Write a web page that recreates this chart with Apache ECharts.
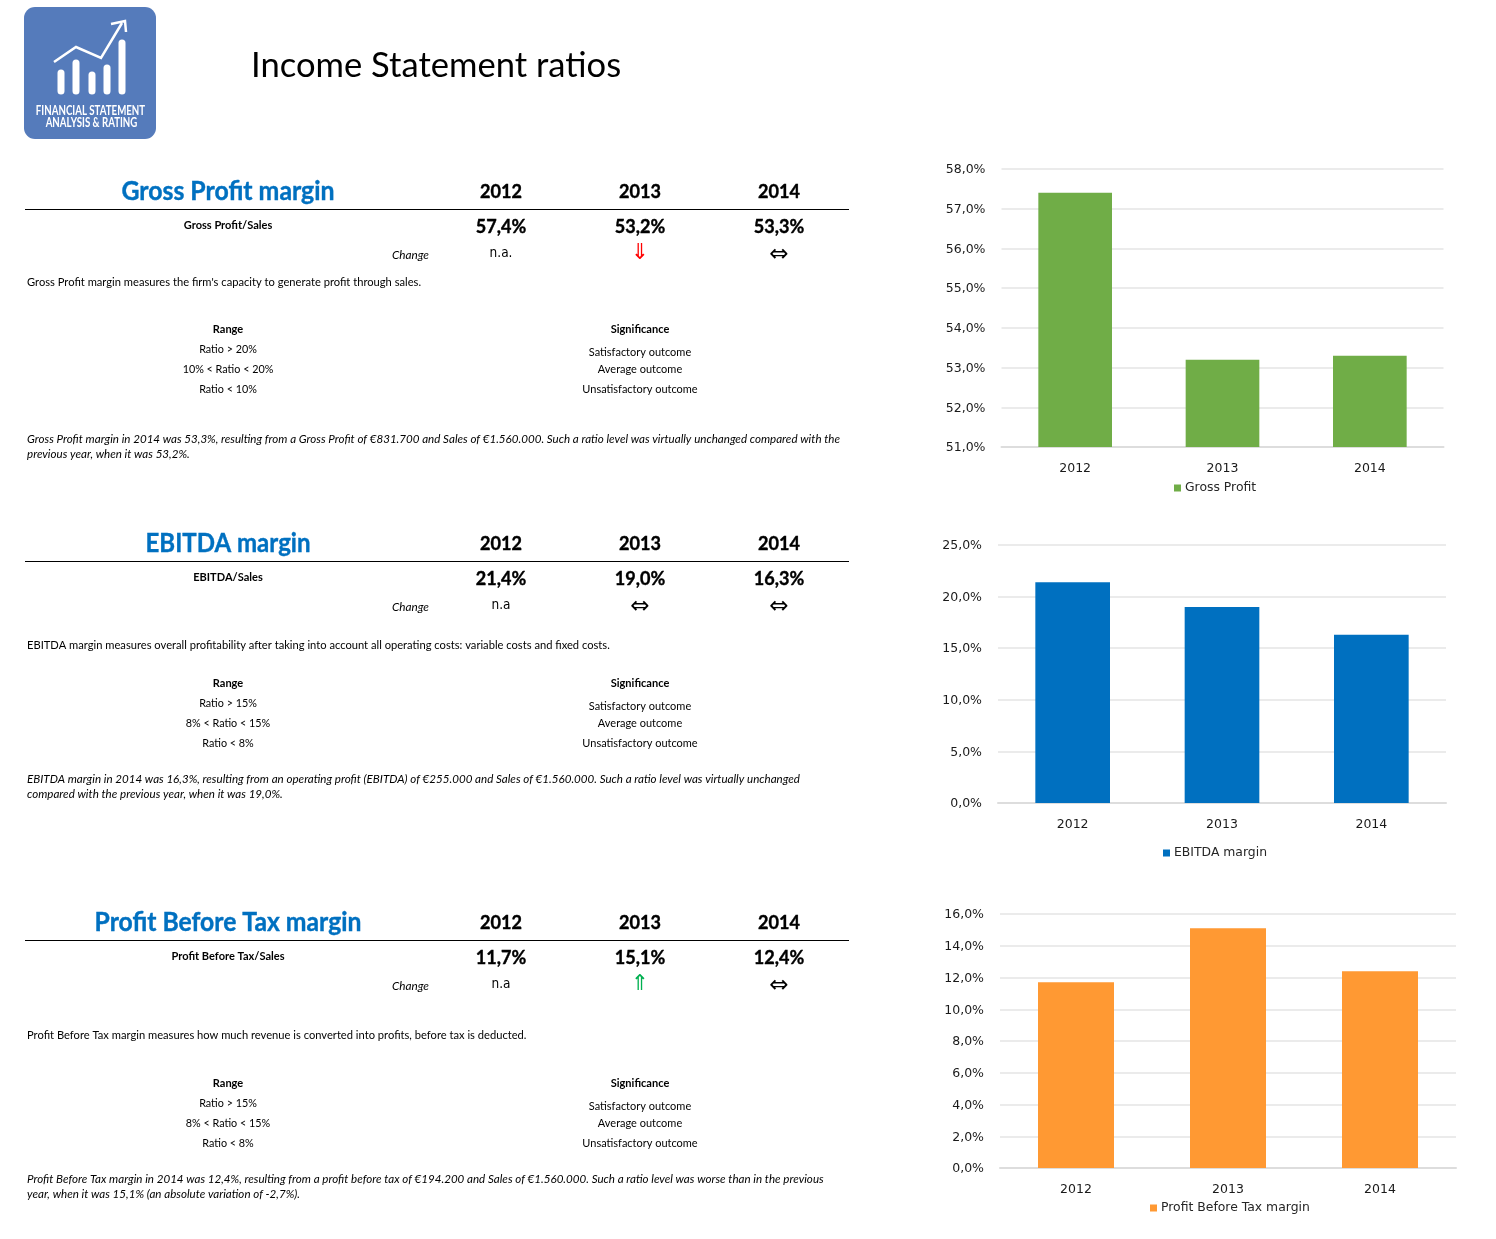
<!DOCTYPE html>
<html>
<head>
<meta charset="utf-8">
<title>Income Statement ratios</title>
<script src="https://cdn.jsdelivr.net/npm/echarts@6/dist/echarts.min.js"></script>
<style>
  html, body { margin: 0; padding: 0; background: #fff; }
  #main { width: 1496px; height: 1239px; }
</style>
</head>
<body>
<div id="main"></div>
<script>
// chart data
const years = ["2012", "2013", "2014"];
const grossProfit = [57.4, 53.2, 53.3];
const ebitdaMargin = [21.4, 19.0, 16.3];
const pbtMargin = [11.7, 15.1, 12.4];

// table texts
const grossValues = ["57,4%", "53,2%", "53,3%"];
const ebitdaValues = ["21,4%", "19,0%", "16,3%"];
const pbtValues = ["11,7%", "15,1%", "12,4%"];
const grossRanges = ["Ratio > 20%", "10% < Ratio < 20%", "Ratio < 10%"];
const ebitdaRanges = ["Ratio > 15%", "8% < Ratio < 15%", "Ratio < 8%"];
const pbtRanges = ["Ratio > 15%", "8% < Ratio < 15%", "Ratio < 8%"];
const outcomes = ["Satisfactory outcome", "Average outcome", "Unsatisfactory outcome"];
const grossNote = [
  "Gross Profit margin in 2014 was 53,3%, resulting from a Gross Profit of €831.700 and Sales of €1.560.000. Such a ratio level was virtually unchanged compared with the",
  "previous year, when it was 53,2%."
];
const ebitdaNote = [
  "EBITDA margin in 2014 was 16,3%, resulting from an operating profit (EBITDA) of €255.000 and Sales of €1.560.000. Such a ratio level was virtually unchanged",
  "compared with the previous year, when it was 19,0%."
];
const pbtNote = [
  "Profit Before Tax margin in 2014 was 12,4%, resulting from a profit before tax of €194.200 and Sales of €1.560.000. Such a ratio level was worse than in the previous",
  "year, when it was 15,1% (an absolute variation of -2,7%)."
];

const sheetFont = "Lato, 'Noto Sans', sans-serif";
const chartFont = "'DejaVu Sans', Verdana, sans-serif";
const yearX = [501, 640, 779];
const graphics = [];

function txt(x, y, text, size, opts) {
  opts = opts || {};
  const color = opts.color || "#000";
  graphics.push({
    type: "text",
    x: x,
    y: y,
    scaleX: opts.scaleX || 0.9,
    style: {
      text: text,
      fontFamily: opts.font || sheetFont,
      fontSize: size,
      fontWeight: opts.bold ? "bold" : "normal",
      fontStyle: opts.italic ? "italic" : "normal",
      fill: color,
      // Lato bold is lighter than the sheet's bold, thicken the big figures a bit
      stroke: opts.heavy ? color : null,
      lineWidth: opts.heavy ? 0.4 : 0,
      textAlign: opts.align || "center",
      textVerticalAlign: "middle"
    }
  });
}

// one block of the left hand table, y values are the rows of the sheet
function section(s) {
  txt(228, s.head + 0.5, s.title, 27, { bold: true, heavy: true, color: "#0070C0", scaleX: s.titleScale });
  years.forEach(function (year, i) {
    txt(yearX[i], s.head + 0.5, year, 19, { bold: true, heavy: true, scaleX: 0.95 });
    txt(yearX[i], s.head + 35.5, s.values[i], 19, { bold: true, heavy: true, scaleX: 0.95 });
  });
  graphics.push({
    type: "line",
    shape: { x1: 25, y1: s.head + 18.5, x2: 849, y2: s.head + 18.5 },
    style: { stroke: "#000", lineWidth: 1 }
  });
  txt(228, s.head + 34, s.formula, 12, { bold: true, scaleX: 0.92 });
  txt(429, s.head + 64, "Change", 12, { italic: true, align: "right", scaleX: 0.98 });
  txt(501, s.head + 62, s.na, 13.5, { font: chartFont });
  s.arrows.forEach(function (a, i) {
    txt(yearX[i + 1], s.head + 62 + (a[0] === "⇔" ? 2 : 0), a[0], a[0] === "⇔" ? 23 : 22, { font: chartFont, color: a[1], scaleX: 1 });
  });
  txt(27, s.desc, s.description, 12, { align: "left", scaleX: 0.93 });
  txt(228, s.range, "Range", 12, { bold: true, scaleX: 0.92 });
  txt(640, s.range, "Significance", 12, { bold: true, scaleX: 0.92 });
  s.ranges.forEach(function (r, i) {
    txt(228, s.range + 20 + i * 20, r, 12);
  });
  txt(640, s.range + 23, outcomes[0], 12, { scaleX: 0.915 });
  txt(640, s.range + 40, outcomes[1], 12, { scaleX: 0.915 });
  txt(640, s.range + 60, outcomes[2], 12, { scaleX: 0.915 });
  s.note.forEach(function (line, i) {
    txt(27, s.noteY + i * 14.8, line, 12, { italic: true, align: "left", scaleX: 0.966 });
  });
}

function drawLogo() {
  graphics.push({
    type: "rect",
    shape: { x: 24, y: 7, width: 132, height: 132, r: 11 },
    style: { fill: "#557BBB" }
  });
  [[61, 73], [76, 63], [92, 75], [107, 68], [122, 43]].forEach(function (b) {
    graphics.push({
      type: "line",
      shape: { x1: b[0], y1: b[1], x2: b[0], y2: 91 },
      style: { stroke: "#fff", lineWidth: 7, lineCap: "round" }
    });
  });
  graphics.push({
    type: "polyline",
    shape: { points: [[54, 62], [76, 47], [101, 58], [122, 23]] },
    style: { stroke: "#fff", lineWidth: 2.5, fill: null }
  });
  graphics.push({
    type: "polyline",
    shape: { points: [[111, 24], [125, 21], [126, 32]] },
    style: { stroke: "#fff", lineWidth: 2.5, fill: null }
  });
  txt(90.5, 111, "FINANCIAL STATEMENT", 13, { bold: true, color: "#fff", scaleX: 0.745 });
  txt(91.5, 123, "ANALYSIS & RATING", 13, { bold: true, color: "#fff", scaleX: 0.745 });
}

drawLogo();
txt(251, 66.5, "Income Statement ratios", 34, { align: "left", scaleX: 1.017 });

section({
  title: "Gross Profit margin", titleScale: 0.92, head: 191, values: grossValues, formula: "Gross Profit/Sales", na: "n.a.",
  arrows: [["⇓", "#FF0000"], ["⇔", "#000"]],
  desc: 282, description: "Gross Profit margin measures the firm's capacity to generate profit through sales.",
  range: 329, ranges: grossRanges, noteY: 439, note: grossNote
});
section({
  title: "EBITDA margin", titleScale: 0.89, head: 543, values: ebitdaValues, formula: "EBITDA/Sales", na: "n.a",
  arrows: [["⇔", "#000"], ["⇔", "#000"]],
  desc: 645, description: "EBITDA margin measures overall profitability after taking into account all operating costs: variable costs and fixed costs.",
  range: 683, ranges: ebitdaRanges, noteY: 779, note: ebitdaNote
});
section({
  title: "Profit Before Tax margin", titleScale: 0.915, head: 922, values: pbtValues, formula: "Profit Before Tax/Sales", na: "n.a",
  arrows: [["⇑", "#00B050"], ["⇔", "#000"]],
  desc: 1035, description: "Profit Before Tax margin measures how much revenue is converted into profits, before tax is deducted.",
  range: 1083, ranges: pbtRanges, noteY: 1179, note: pbtNote
});

// the three bar charts on the right
const panels = [
  { name: "Gross Profit", data: grossProfit, color: "#70AD47", min: 51, max: 58, interval: 1,
    left: 1001.5, top: 169, width: 442, height: 278, legendLeft: 1174, legendTop: 482 },
  { name: "EBITDA margin", data: ebitdaMargin, color: "#0070C0", min: 0, max: 25, interval: 5,
    left: 998, top: 545, width: 448, height: 258, legendLeft: 1163, legendTop: 847 },
  { name: "Profit Before Tax margin", data: pbtMargin, color: "#FF9933", min: 0, max: 16, interval: 2,
    left: 1000, top: 914, width: 456, height: 254, legendLeft: 1150, legendTop: 1202 }
];

const option = {
  animation: false,
  backgroundColor: "#fff",
  textStyle: { fontFamily: chartFont },
  graphic: { elements: graphics },
  legend: panels.map(function (p) {
    return {
      data: [p.name],
      left: p.legendLeft,
      top: p.legendTop,
      padding: 0,
      icon: "rect",
      itemWidth: 7,
      itemHeight: 7,
      itemGap: 0,
      textStyle: { fontFamily: chartFont, fontSize: 12.4, color: "#262626", padding: [0, 0, 0, -1] }
    };
  }),
  grid: panels.map(function (p) {
    return { left: p.left, top: p.top, width: p.width, height: p.height };
  }),
  xAxis: panels.map(function (p, i) {
    return {
      type: "category",
      gridIndex: i,
      data: years,
      axisTick: { show: false },
      axisLine: { lineStyle: { color: "#DDDDDD", width: 2 } },
      axisLabel: { margin: 15, fontFamily: chartFont, fontSize: 12.5, color: "#1a1a1a" }
    };
  }),
  yAxis: panels.map(function (p, i) {
    return {
      type: "value",
      gridIndex: i,
      min: p.min,
      max: p.max,
      interval: p.interval,
      axisLine: { show: false },
      axisTick: { show: false },
      splitLine: { lineStyle: { color: "#EBEBEB", width: 2 } },
      axisLabel: {
        margin: 16,
        fontFamily: chartFont,
        fontSize: 12.5,
        color: "#1a1a1a",
        formatter: function (v) {
          return "{t|" + v.toFixed(1).replace(".", ",") + "%}";
        },
        rich: {
          t: { fontFamily: chartFont, fontSize: 12.5, color: "#1a1a1a", padding: [2, 0, 0, 0] }
        }
      }
    };
  }),
  series: panels.map(function (p, i) {
    return {
      name: p.name,
      type: "bar",
      xAxisIndex: i,
      yAxisIndex: i,
      barWidth: "50%",
      itemStyle: { color: p.color },
      data: p.data
    };
  })
};

const myChart = echarts.init(document.getElementById("main"));
myChart.setOption(option);
</script>
</body>
</html>
